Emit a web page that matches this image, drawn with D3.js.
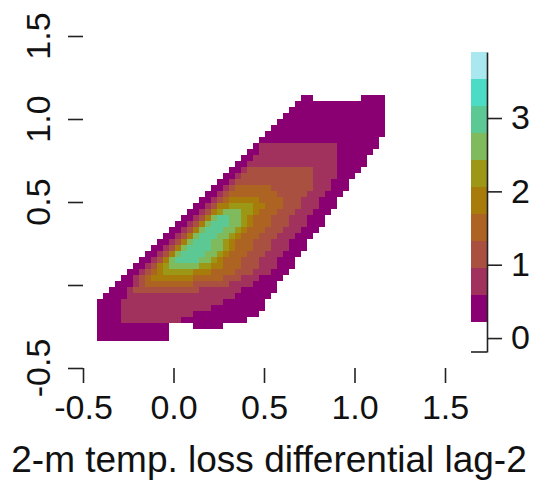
<!DOCTYPE html>
<html><head><meta charset="utf-8">
<script src="https://cdn.jsdelivr.net/npm/d3@7"></script>
<style>body{margin:0;background:#fff} svg{display:block}</style>
</head><body>
<svg id="chart" width="534" height="484"></svg>
<script>
const xTicks = [-0.5, 0, 0.5, 1, 1.5];
const xTickLabels = ["-0.5", "0.0", "0.5", "1.0", "1.5"];
const yTicks = [-0.5, 0, 0.5, 1, 1.5];
const yTickLabels = ["-0.5", "", "0.5", "1.0", "1.5"];
const xTitle = "2-m temp. loss differential lag-2";
const levelBreaks = [0.22, 0.59, 0.96, 1.32, 1.69, 2.06, 2.43, 2.80, 3.17, 3.53, 3.90];
const levelColors = ["#8a0072", "#a1325e", "#aa5040", "#ad6322", "#a87c0a", "#9c9816", "#7fba5c", "#5cc995", "#4cdcc6", "#a9e8ef"];
const keyTicks = [0, 1, 2, 3];

// density grid: cell geometry in data units, rows listed top to bottom,
// each row a list of [level, firstCol, lastCol] runs (higher levels on top)
const gridLeft = -0.4227, gridTop = 1.1446, cellW = 0.03315, cellH = 0.03614;
const densityRows = [
  [[1,34,35],[1,44,47]],
  [[1,33,47]],
  [[1,32,47]],
  [[1,31,47]],
  [[1,30,47]],
  [[1,29,47]],
  [[1,28,47]],
  [[1,27,46]],
  [[1,26,46],[2,27,39]],
  [[1,25,45],[2,27,39]],
  [[1,24,44],[2,26,39]],
  [[1,23,44],[2,25,39]],
  [[1,22,43],[2,24,39],[3,25,35]],
  [[1,21,42],[2,23,39],[3,24,35]],
  [[1,20,41],[2,22,38],[3,23,35]],
  [[1,19,41],[2,21,38],[3,22,35],[4,23,28]],
  [[1,18,40],[2,20,37],[3,21,34],[4,22,29]],
  [[1,17,39],[2,19,36],[3,20,33],[4,21,30],[5,22,26]],
  [[1,16,39],[2,18,36],[3,19,33],[4,20,30],[5,20,27],[6,22,25]],
  [[1,15,38],[2,17,35],[3,18,32],[4,19,29],[5,19,26],[6,20,25],[7,21,23]],
  [[1,14,37],[2,16,34],[3,17,31],[4,18,28],[5,18,25],[6,19,24],[7,19,23],[8,20,21]],
  [[1,13,37],[2,15,34],[3,16,31],[4,17,28],[5,17,25],[6,18,24],[7,18,23],[8,19,21]],
  [[1,12,36],[2,14,33],[3,15,30],[4,16,27],[5,16,24],[6,17,23],[7,17,22],[8,18,20]],
  [[1,11,35],[2,13,32],[3,14,29],[4,15,26],[5,15,23],[6,16,22],[7,16,21],[8,17,19]],
  [[1,10,34],[2,12,31],[3,13,28],[4,14,25],[5,14,22],[6,15,21],[7,15,20],[8,16,18]],
  [[1,9,34],[2,11,31],[3,12,28],[4,13,25],[5,13,22],[6,14,21],[7,14,20],[8,15,18]],
  [[1,8,33],[2,10,30],[3,11,27],[4,12,24],[5,12,21],[6,13,20],[7,13,19],[8,14,17]],
  [[1,7,32],[2,9,29],[3,10,26],[4,11,23],[5,11,20],[6,12,19],[7,12,18],[8,13,16]],
  [[1,6,32],[2,8,29],[3,9,26],[4,10,23],[5,10,20],[6,11,18],[7,12,16]],
  [[1,5,31],[2,7,28],[3,8,25],[4,9,22],[5,10,18],[6,11,15]],
  [[1,4,30],[2,6,26],[3,7,23],[4,8,20],[5,9,15]],
  [[1,3,29],[2,6,25],[3,7,21],[4,8,15]],
  [[1,2,29],[2,5,23],[3,6,16]],
  [[1,1,28],[2,5,22]],
  [[1,0,27],[2,4,20]],
  [[1,0,27],[2,4,18]],
  [[1,0,26],[2,4,15]],
  [[1,0,24],[2,4,13]],
  [[1,0,11],[1,16,20]],
  [[1,0,11]],
  [[1,0,11]]
];

const FONT = "'Liberation Sans', Arial, Helvetica, sans-serif";
const svg = d3.select("#chart");

const x = d3.scaleLinear().domain([-0.5, 1.5]).range([83, 445]);
const y = d3.scaleLinear().domain([-0.5, 1.5]).range([368, 36]);

// level value of a run = middle of its band, coloured by threshold
const bandMid = levelBreaks.slice(0, -1).map((b, i) => (b + levelBreaks[i + 1]) / 2);
const color = d3.scaleThreshold().domain(levelBreaks.slice(1, -1)).range(levelColors);

const runs = [];
densityRows.forEach((row, r) => row.forEach(([lev, c0, c1]) => runs.push({ r, lev, c0, c1, v: bandMid[lev - 1] })));
runs.sort((a, b) => a.lev - b.lev);

svg.append("g").attr("shape-rendering", "crispEdges")
  .selectAll("rect").data(runs).join("rect")
  .attr("x", d => x(gridLeft + d.c0 * cellW))
  .attr("width", d => x(gridLeft + (d.c1 + 1) * cellW) - x(gridLeft + d.c0 * cellW))
  .attr("y", d => y(gridTop - d.r * cellH))
  .attr("height", d => y(gridTop - (d.r + 1) * cellH) - y(gridTop - d.r * cellH))
  .attr("fill", d => color(d.v));

// axes: ticks only, no axis line
const xAxis = svg.append("g").attr("transform", "translate(0,368)")
  .call(d3.axisBottom(x).tickValues(xTicks).tickSize(15).tickPadding(12)
    .tickFormat((d, i) => xTickLabels[i]));
const yAxis = svg.append("g").attr("transform", "translate(83,0)")
  .call(d3.axisLeft(y).tickValues(yTicks).tickSize(15).tickFormat(""));
[xAxis, yAxis].forEach(g => {
  g.select(".domain").remove();
  g.selectAll(".tick line").attr("stroke", "#222").attr("stroke-width", 1.6);
});
xAxis.selectAll(".tick text").attr("fill", "#111").style("font-family", FONT).style("font-size", "34px");

svg.append("g").selectAll("text").data(yTicks).join("text")
  .attr("transform", d => `translate(50,${y(d)}) rotate(-90)`)
  .attr("text-anchor", "middle")
  .attr("fill", "#111").style("font-family", FONT).style("font-size", "34px")
  .text((d, i) => yTickLabels[i]);

svg.append("text")
  .attr("x", 269).attr("y", 472).attr("text-anchor", "middle")
  .attr("fill", "#111").style("font-family", FONT).style("font-size", "37px")
  .text(xTitle);

// colour key
const yk = d3.scaleLinear().domain([-0.19, 3.9]).range([352, 52]);
const key = svg.append("g");
key.append("g").attr("shape-rendering", "crispEdges")
  .selectAll("rect").data(levelColors).join("rect")
  .attr("x", 471).attr("width", 16)
  .attr("y", (c, i) => yk(levelBreaks[i + 1]))
  .attr("height", (c, i) => yk(levelBreaks[i]) - yk(levelBreaks[i + 1]))
  .attr("fill", c => c);
const kAxis = key.append("g").attr("transform", "translate(487,0)")
  .call(d3.axisRight(yk).tickValues(keyTicks).tickSize(15).tickPadding(9)
    .tickSizeOuter(0).tickFormat(d3.format("d")));
kAxis.select(".domain").attr("stroke", "#222").attr("stroke-width", 1.6);
kAxis.selectAll(".tick line").attr("stroke", "#222").attr("stroke-width", 1.6);
kAxis.selectAll(".tick text").attr("fill", "#111").style("font-family", FONT).style("font-size", "34px");
key.append("line").attr("x1", 471).attr("x2", 487).attr("y1", yk(-0.19)).attr("y2", yk(-0.19))
  .attr("stroke", "#222").attr("stroke-width", 1.6);
</script>
</body></html>
